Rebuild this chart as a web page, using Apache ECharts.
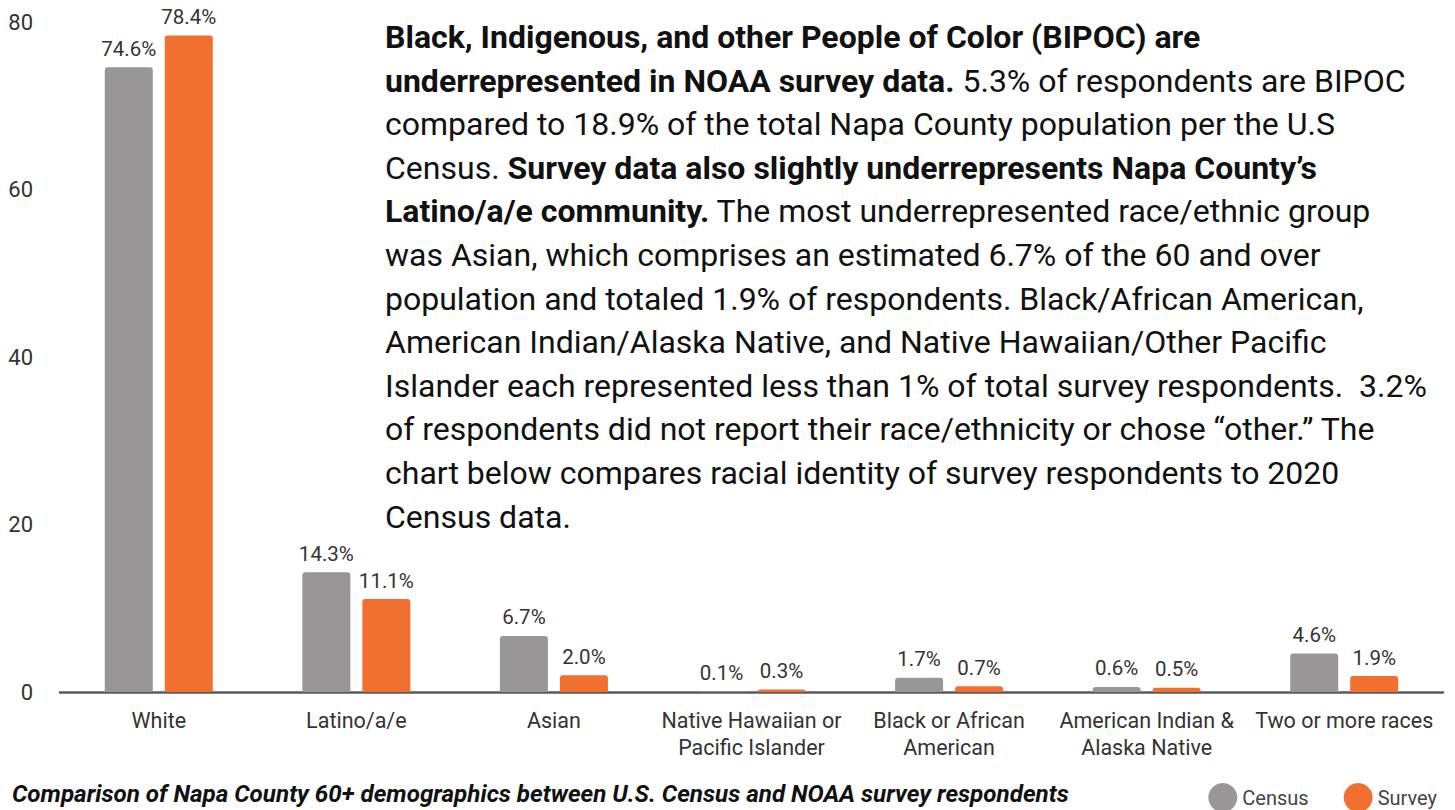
<!DOCTYPE html>
<html>
<head>
<meta charset="utf-8">
<script src="https://cdn.jsdelivr.net/npm/echarts@6/dist/echarts.min.js"></script>
<style>
html,body{margin:0;padding:0;background:#fff;}
#chart{width:1455px;height:810px;}
</style>
</head>
<body>
<div id="chart"></div>
<script>
const categories = ['White', 'Latino/a/e', 'Asian', 'Native Hawaiian or\nPacific Islander', 'Black or African\nAmerican', 'American Indian &\nAlaska Native', 'Two or more races'];
const census = [74.6, 14.3, 6.7, 0.1, 1.7, 0.6, 4.6];
const survey = [78.4, 11.1, 2.0, 0.3, 0.7, 0.5, 1.9];
const seriesNames = ['Census', 'Survey'];
const yTicks = [0, 20, 40, 60, 80];
const caption = 'Comparison of Napa County 60+ demographics between U.S. Census and NOAA survey respondents';
const paragraphLines = [
  [['b', 'Black, Indigenous, and other People of Color (BIPOC) are']],
  [['b', 'underrepresented in NOAA survey data.'], ['n', ' 5.3% of respondents are BIPOC']],
  [['n', 'compared to 18.9% of the total Napa County population per the U.S']],
  [['n', 'Census. '], ['b', 'Survey data also slightly underrepresents Napa County\u2019s']],
  [['b', 'Latino/a/e community.'], ['n', ' The most underrepresented race/ethnic group']],
  [['n', 'was Asian, which comprises an estimated 6.7% of the 60 and over']],
  [['n', 'population and totaled 1.9% of respondents. Black/African American,']],
  [['n', 'American Indian/Alaska Native, and Native Hawaiian/Other Pacific']],
  [['n', 'Islander each represented less than 1% of total survey respondents.  3.2%']],
  [['n', 'of respondents did not report their race/ethnicity or chose \u201cother.\u201d The']],
  [['n', 'chart below compares racial identity of survey respondents to 2020']],
  [['n', 'Census data.']]
];

const FONT = 'Roboto, "Open Sans", sans-serif';
const paraText = paragraphLines.map(line => line.map(([s, t]) => '{' + s + '|' + t + '}').join('')).join('\n');

const chart = echarts.init(document.getElementById('chart'), null, {renderer: 'svg'});
const labelFmt = p => p.value.toFixed(1) + '%';
const option = {
  backgroundColor: '#ffffff',
  animation: false,
  textStyle: {fontFamily: FONT},
  grid: {left: 60, right: 12, top: 22, bottom: 118},
  legend: {
    data: seriesNames,
    right: 13, top: 778,
    icon: 'circle', itemWidth: 29, itemHeight: 29, itemGap: 35,
    textStyle: {fontFamily: FONT, fontSize: 20, color: '#444'}
  },
  xAxis: {
    type: 'category',
    data: categories,
    axisLine: {show: true, lineStyle: {color: '#5a5a5a', width: 2.5}},
    axisTick: {show: false},
    axisLabel: {fontFamily: FONT, fontSize: 21.5, color: '#333', margin: 15, lineHeight: 27, interval: 0}
  },
  yAxis: {
    type: 'value',
    min: yTicks[0], max: yTicks[yTicks.length - 1], interval: 20,
    splitLine: {show: false},
    axisLine: {show: false},
    axisTick: {show: false},
    axisLabel: {fontFamily: FONT, fontSize: 22, color: '#333', margin: 27}
  },
  series: [
    {
      name: seriesNames[0], type: 'bar', data: census, barWidth: 48, barGap: '25%',
      itemStyle: {color: '#989696', borderRadius: [3, 3, 0, 0]},
      label: {show: true, position: 'top', distance: 8, formatter: labelFmt, fontFamily: FONT, fontSize: 20.5, color: '#333'}
    },
    {
      name: seriesNames[1], type: 'bar', data: survey, barWidth: 48, barGap: '25%',
      itemStyle: {color: '#F1702F', borderRadius: [3, 3, 0, 0]},
      label: {show: true, position: 'top', distance: 8, formatter: labelFmt, fontFamily: FONT, fontSize: 20.5, color: '#333'}
    }
  ],
  graphic: [
    {
      type: 'text', left: 385, top: 21, z: 100,
      style: {
        text: paraText,
        fill: '#111',
        rich: {
          b: {fontFamily: FONT, fontWeight: 'bold', fontSize: 32, lineHeight: 43.6, fill: '#111', color: '#111'},
          n: {fontFamily: FONT, fontWeight: 'normal', fontSize: 32, lineHeight: 43.6, fill: '#111', color: '#111'}
        }
      }
    },
    {
      type: 'text', left: 12, top: 782,
      style: {text: caption, fill: '#111', font: 'italic bold 24.2px ' + FONT}
    }
  ]
};
chart.setOption(option);
</script>
</body>
</html>
